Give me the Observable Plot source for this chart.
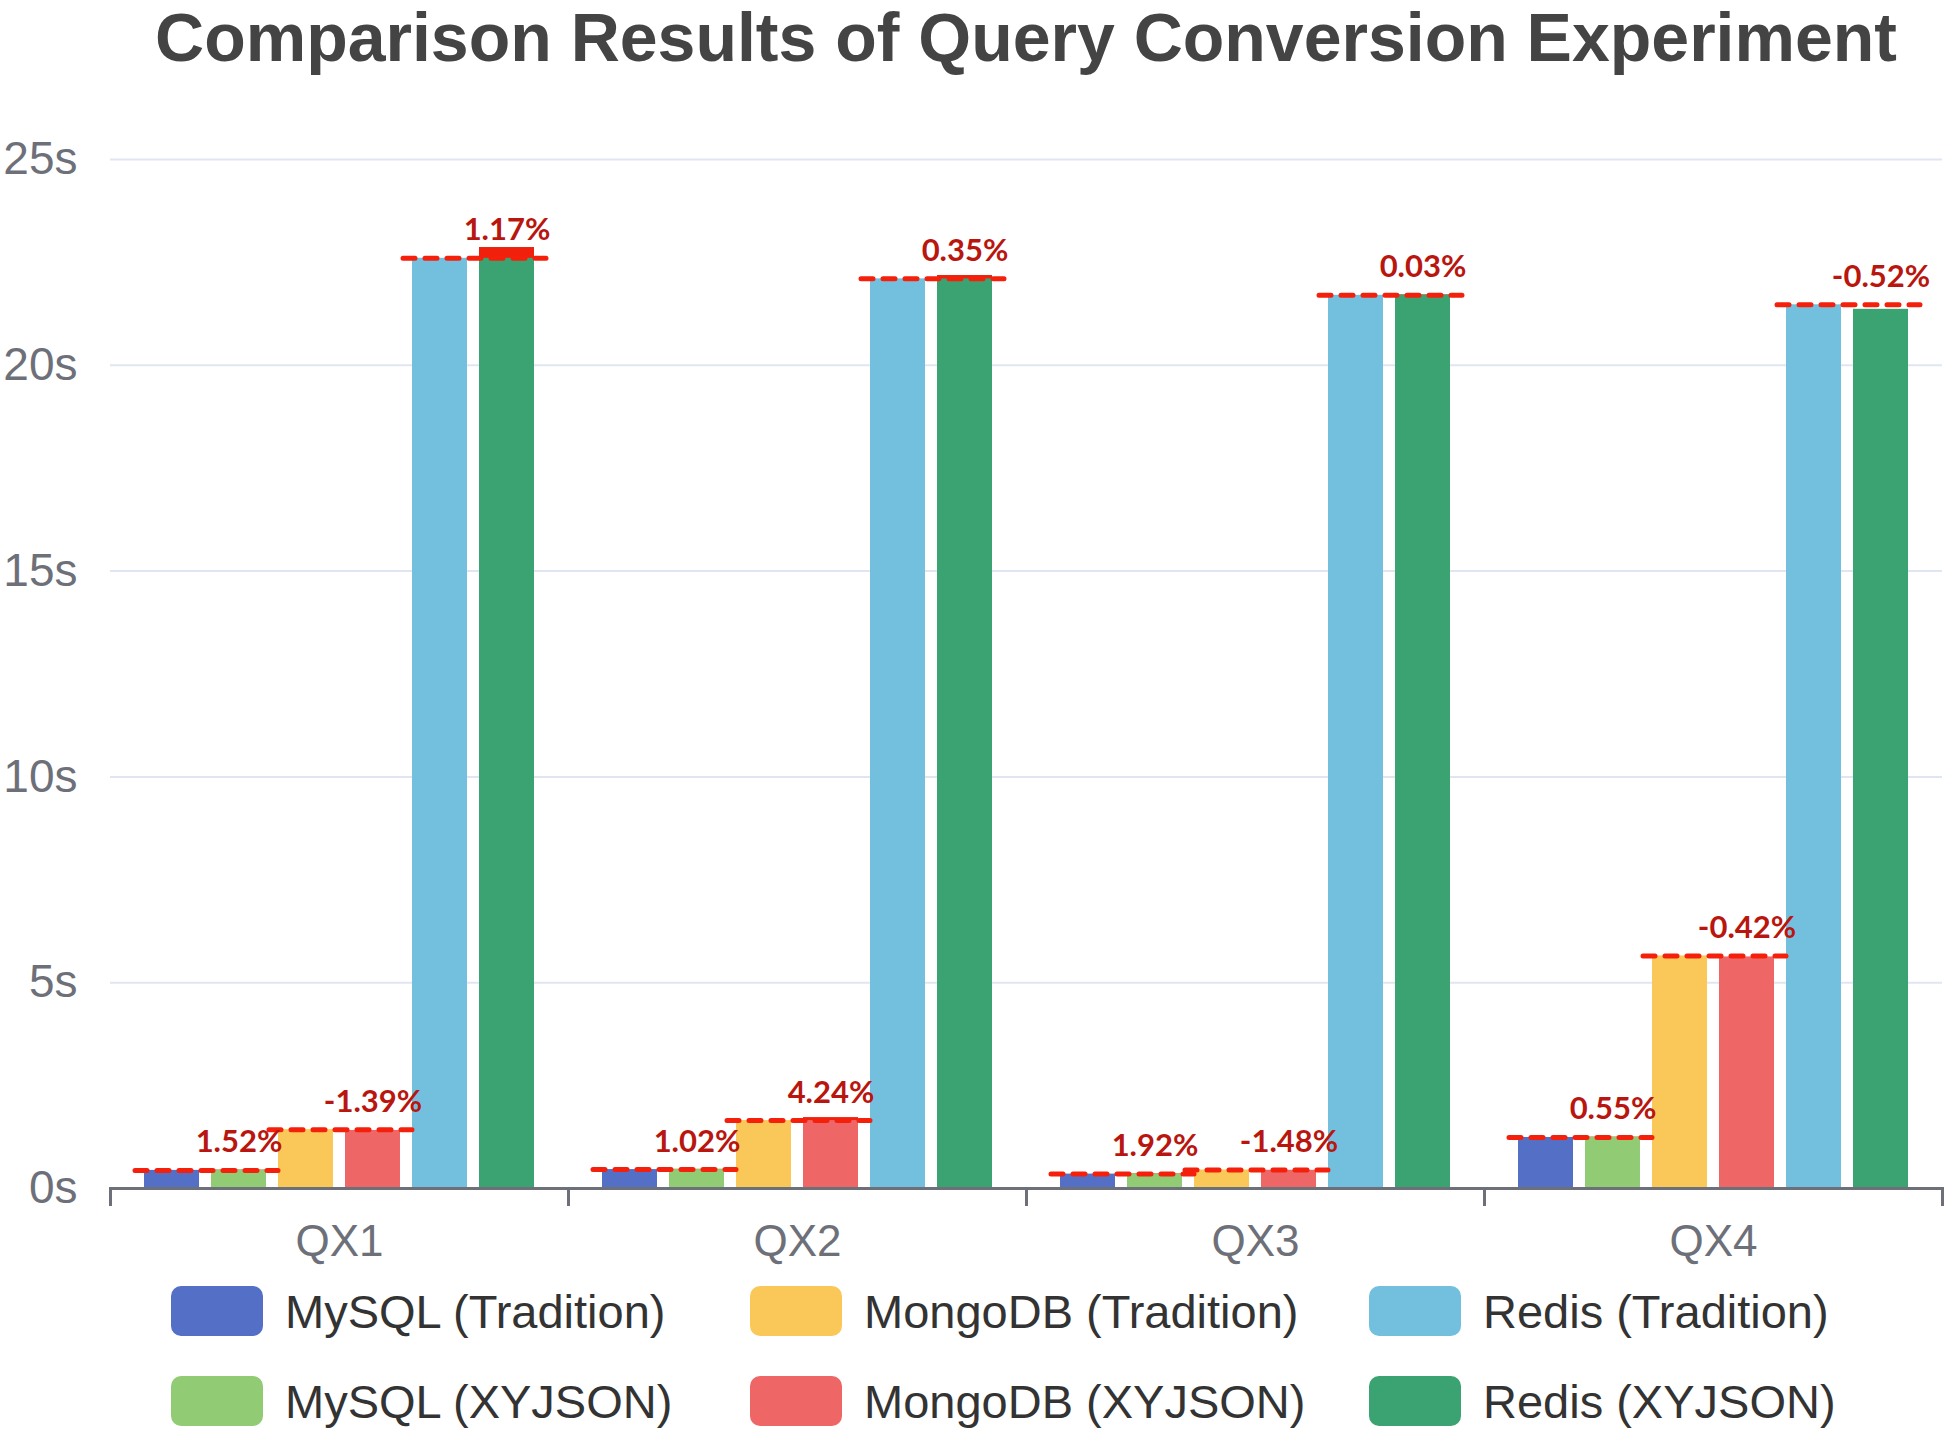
<!DOCTYPE html>
<html><head><meta charset="utf-8">
<script src="https://cdn.jsdelivr.net/npm/d3@7"></script>
<script src="https://cdn.jsdelivr.net/npm/@observablehq/plot@0.6"></script>
<style>
html,body{margin:0;padding:0;background:#fff;}
#wrap{position:relative;width:1944px;height:1433px;overflow:hidden;background:#fff;}
#title{position:absolute;left:110px;width:1832px;top:2px;height:70px;text-align:center;font:bold 68px/70px "Liberation Sans",Arial,sans-serif;color:#444;white-space:nowrap;}
#chart{position:absolute;left:0;top:90px;}
#legend{position:absolute;top:1286px;left:171px;display:grid;grid-template-columns:579px 619px auto;grid-template-rows:50px 50px;row-gap:40px;grid-auto-flow:column;}
.item{display:flex;align-items:center;height:50px;}
.sw{width:92px;height:50px;border-radius:10px;margin-right:22px;flex:none;}
.lab{font:47px "Liberation Sans",Arial,sans-serif;color:#333;white-space:nowrap;}
</style></head>
<body>
<div id="wrap">
  <div id="title">Comparison Results of Query Conversion Experiment</div>
  <div id="chart"></div>
  <div id="legend"></div>
</div>
<script>
const categories = ["QX1", "QX2", "QX3", "QX4"];
const seriesNames = ["MySQL (Tradition)", "MySQL (XYJSON)", "MongoDB (Tradition)", "MongoDB (XYJSON)", "Redis (Tradition)", "Redis (XYJSON)"];
const seriesColors = ["#5470c6", "#91cc75", "#fac858", "#ee6666", "#73c0de", "#3ba272"];

const mysqlTradition = [0.44, 0.46, 0.35, 1.24];
const mysqlXYJSON    = [0.447, 0.465, 0.357, 1.247];
const mongoTradition = [1.43, 1.65, 0.45, 5.65];
const mongoXYJSON    = [1.41, 1.72, 0.443, 5.626];
const redisTradition = [22.6, 22.1, 21.7, 21.47];
const redisXYJSON    = [22.86, 22.18, 21.71, 21.36];

const mysqlChange = ["1.52%", "1.02%", "1.92%", "0.55%"];
const mongoChange = ["-1.39%", "4.24%", "-1.48%", "-0.42%"];
const redisChange = ["1.17%", "0.35%", "0.03%", "-0.52%"];

const yTicks = [0, 5, 10, 15, 20, 25];

const seriesValues = [mysqlTradition, mysqlXYJSON, mongoTradition, mongoXYJSON, redisTradition, redisXYJSON];
const rows = [];
categories.forEach((c, i) => {
  seriesNames.forEach((s, j) => rows.push({category: c, series: s, value: seriesValues[j][i]}));
});

const pairDefs = [
  {trad: seriesNames[0], xy: seriesNames[1], tv: mysqlTradition, xv: mysqlXYJSON, labels: mysqlChange},
  {trad: seriesNames[2], xy: seriesNames[3], tv: mongoTradition, xv: mongoXYJSON, labels: mongoChange},
  {trad: seriesNames[4], xy: seriesNames[5], tv: redisTradition, xv: redisXYJSON, labels: redisChange}
];
const pairs = [];
categories.forEach((c, i) => {
  pairDefs.forEach(p => pairs.push({category: c, trad: p.trad, xy: p.xy, tv: p.tv[i], xv: p.xv[i], label: p.labels[i]}));
});

const H = 1180, MT = 69, MB = 82;
const axisColor = "#6e7079";

const chart = Plot.plot({
  width: 1944,
  height: H,
  marginTop: MT,
  marginBottom: MB,
  marginLeft: 110,
  marginRight: 2,
  style: {background: "white", fontFamily: "'Liberation Sans', Arial, sans-serif", overflow: "visible"},
  fx: {domain: categories, padding: 0, label: null, axis: null},
  x: {domain: seriesNames, paddingInner: 0.18, paddingOuter: 0.5, axis: null},
  y: {domain: [0, 25], axis: null},
  color: {domain: seriesNames, range: seriesColors},
  marks: [
    Plot.gridY(yTicks.filter(t => t > 0), {stroke: "#e0e6f1", strokeOpacity: 1, strokeWidth: 2}),
    Plot.axisY(yTicks, {tickSize: 0, tickPadding: 33, tickFormat: d => d + "s", fontSize: 46, color: axisColor, label: null}),
    Plot.barY(rows, {fx: "category", x: "series", y: "value", fill: "series"}),
    Plot.barY(pairs.filter(d => d.xv > d.tv), {fx: "category", x: "xy", y1: "tv", y2: "xv", fill: "#f0200c"}),
    Plot.ruleY(pairs, {fx: "category", x1: "trad", x2: "xy", y: "tv", stroke: "#f5200c", strokeWidth: 5, strokeDasharray: "12 10", strokeLinecap: "round", insetLeft: -9, insetRight: -12}),
    Plot.text(pairs, {fx: "category", x: "xy", y: "tv", text: "label", dy: -18, lineAnchor: "bottom", fill: "#b8160e", fontSize: 31, fontFamily: "Lato, 'Open Sans', sans-serif", fontWeight: "bold"}),
    Plot.ruleY([0], {stroke: axisColor, strokeWidth: 3}),
    Plot.frame({anchor: "left", stroke: axisColor, strokeWidth: 3, insetTop: H - MT - MB, insetBottom: -16}),
    Plot.frame({anchor: "right", stroke: axisColor, strokeWidth: 3, insetTop: H - MT - MB, insetBottom: -16}),
    Plot.axisFx({anchor: "bottom", tickSize: 0, tickPadding: 36, fontSize: 44, color: axisColor, label: null})
  ]
});
document.getElementById("chart").appendChild(chart);

const legend = document.getElementById("legend");
seriesNames.forEach((s, j) => {
  const item = document.createElement("div");
  item.className = "item";
  const sw = document.createElement("div");
  sw.className = "sw";
  sw.style.background = seriesColors[j];
  const lab = document.createElement("span");
  lab.className = "lab";
  lab.textContent = s;
  item.appendChild(sw);
  item.appendChild(lab);
  legend.appendChild(item);
});
</script>
</body></html>
